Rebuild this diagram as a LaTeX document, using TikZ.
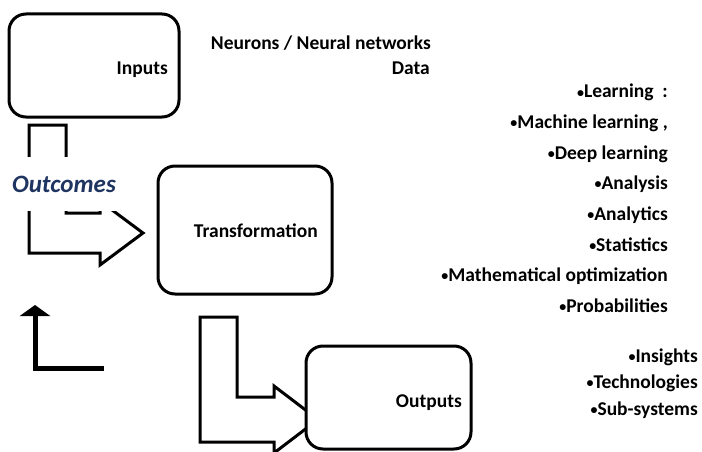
\documentclass[tikz,border=0pt]{standalone}
\usepackage{fontspec}
\setmainfont{Carlito}
\usetikzlibrary{arrows.meta}
\definecolor{navy}{RGB}{31,52,96}
\newcommand{\bul}{{\fontsize{14}{14}\selectfont\raisebox{1pt}{•}}}
\begin{document}
\begin{tikzpicture}[x=1pt,y=-1pt,
  box/.style={draw, line width=3pt, rounded corners=17pt, fill=white, inner sep=0pt},
  lbl/.style={font=\fontsize{19.5}{22}\bfseries\selectfont, inner sep=0pt, anchor=base east},
  blk/.style={draw, line width=3pt, line join=miter}]
\useasboundingbox[fill=white] (0,0) rectangle (702,452);

% boxes
\node[box, minimum width=170pt, minimum height=103pt] (inputs) at (94,65.5) {};
\node[box, minimum width=174pt, minimum height=128pt] (transf) at (245,230) {};

% block arrow Inputs -> Transformation (tail under Inputs)
\draw[blk] (29,125) -- (66,125) -- (66,213) -- (100,213) -- (100,201) -- (143,233)
  -- (100,265) -- (100,253) -- (29,253) -- cycle;
\node[fill=white, inner sep=0pt, minimum width=122pt, minimum height=54pt,
  text=navy, font=\fontsize{25}{28}\bfseries\itshape\selectfont] (outcomes) at (64,184) {Outcomes};

% block arrow Transformation -> Outputs
\draw[blk] (200,317) -- (237,317) -- (237,397) -- (274,397) -- (274,386) -- (318,419.5)
  -- (274,453) -- (274,442) -- (200,442) -- cycle;
\node[box, minimum width=165pt, minimum height=103pt] (outputs) at (388.5,397.5) {};

% feedback arrow
\coordinate (fbs) at (104,368);
\coordinate (fbe) at (35,305);
\draw[line width=5pt, -{Triangle[width=30pt,length=11pt]}] (fbs) -| (fbe);

% labels in boxes
\node[lbl] (tin) at (168,75) {Inputs};
\node[lbl] (ttr) at (318,237) {Transformation};
\node[lbl] (tout) at (462,407) {Outputs};

% top text
\node[lbl] (neur) at (431,50) {Neurons / Neural networks};
\node[lbl] (data) at (430,75) {Data};

% right list
\foreach \t [count=\i from 0] in {{\bul Learning\ \ :}, {\bul Machine learning ,}, {\bul Deep learning}, {\bul Analysis}, {\bul Analytics}, {\bul Statistics}, {\bul Mathematical optimization}, {\bul Probabilities}}
  \node[lbl] (r\i) at (668,98+30.6*\i) {\t};

% outputs list
\node[lbl] (o1) at (698,362) {\bul Insights};
\node[lbl] (o2) at (698,388.5) {\bul Technologies};
\node[lbl] (o3) at (698,415) {\bul Sub-systems};
\end{tikzpicture}
\end{document}
